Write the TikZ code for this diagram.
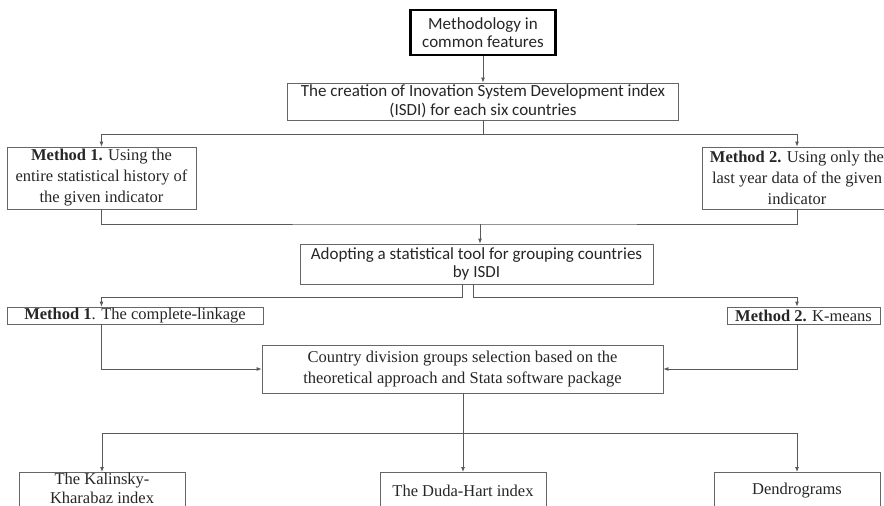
\documentclass[tikz,border=0pt]{standalone}
\usepackage{fontspec}
\setmainfont{Liberation Serif}
\newfontfamily\calfont{Carlito}
\usetikzlibrary{arrows.meta}
\tikzset{
  box/.style={draw=black!60, line width=0.8pt, rectangle, inner sep=0pt, align=center, text=black!85},
  sansbox/.style={box, font=\calfont\fontsize{17}{18.5}\selectfont},
  serifbox/.style={box, font=\fontsize{16.5}{21}\selectfont},
  plaintext/.style={inner sep=0pt, align=center, text=black!85, font=\fontsize{16.5}{19}\selectfont},
  conn/.style={draw=black!65, line width=0.8pt},
  arr/.style={conn, -{Latex[length=5pt,width=4pt]}}
}
\begin{document}
\begin{tikzpicture}[x=1pt,y=-1pt]
\useasboundingbox (0,0) rectangle (884,506);
% boxes
\node[sansbox, draw=black, line width=2.2pt, minimum width=145, minimum height=45] (top) at (483,32.5) {Methodology in\\common features};
\node[sansbox, minimum width=391, minimum height=37] (isdi) at (483,101.5) {The creation of Inovation System Development index\\(ISDI) for each six countries};
\node[serifbox, minimum width=189, minimum height=62] (ma) at (101.5,178) {\textbf{Method 1.} Using the\\entire statistical history of\\the given indicator};
\node[serifbox, minimum width=190, minimum height=62] (mb) at (797,178) {\textbf{Method 2.} Using only the\\last year data of the given\\indicator};
\node[sansbox, minimum width=353, minimum height=40] (adopt) at (476.5,264) {Adopting a statistical tool for grouping countries\\by ISDI};
\node[serifbox, minimum width=256, minimum height=17] (cl) at (135,315.5) {\textbf{Method 1}. The complete-linkage};
\node[serifbox, minimum width=153, minimum height=17] (km) at (803.5,315.5) {\textbf{Method 2.} K-means};
\node[serifbox, minimum width=401, minimum height=48] (cdg) at (462.5,369) {Country division groups selection based on the\\theoretical approach and Stata software package};
\node[box, minimum width=166, minimum height=48, anchor=north] (kal) at (102,472) {};
\node[plaintext] (kaltext) at (102,488.5) {The Kalinsky-\\Kharabaz index};
\node[box, minimum width=166, minimum height=48, anchor=north] (duda) at (463,472) {};
\node[plaintext] (dudatext) at (463,491) {The Duda-Hart index};
\node[box, minimum width=166, minimum height=48, anchor=north] (den) at (797,472) {};
\node[plaintext] (dentext) at (797,491) {Dendrograms};
% junction coordinates
\coordinate (j1) at (480,224);
\coordinate (jl) at (462,297);
\coordinate (jr) at (473,297);
\coordinate (j3) at (463,433);
% connectors
\draw[arr] (top.south) -- (isdi.north);
\draw[conn] (isdi.south) -- ++(0,13.5) coordinate (j0);
\draw[arr] (j0) -| (ma.north);
\draw[arr] (j0) -| (mb.north);
\draw[conn] (ma.south) |- (j1) -| (mb.south);
\draw[arr] (j1) -- (j1 |- adopt.north);
\draw[arr] (jl |- adopt.south) -- (jl) -| (cl.north -| ma.south);
\draw[arr] (jr |- adopt.south) -- (jr) -| (km.north -| mb.south);
\draw[arr] (cl.south -| ma.south) |- (cdg.west);
\draw[arr] (km.south -| mb.south) |- (cdg.east);
\draw[conn] (j3 |- cdg.south) -- (j3);
\draw[arr] (j3) -| (kal.north);
\draw[arr] (j3) -| (den.north);
\draw[arr] (j3) -- (duda.north);
\end{tikzpicture}
\end{document}
